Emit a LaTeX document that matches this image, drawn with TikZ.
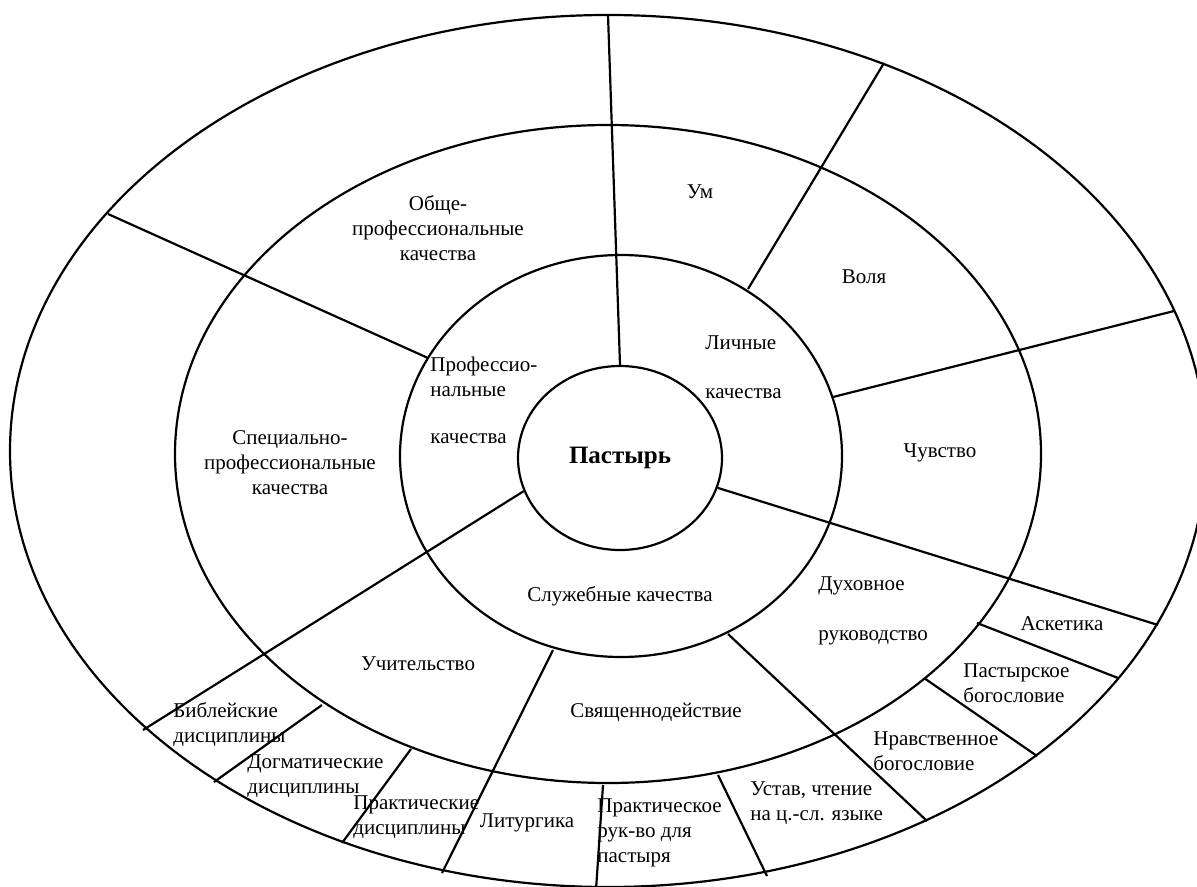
\documentclass[tikz,border=0pt]{standalone}
\usepackage{fontspec}
\setmainfont{Liberation Serif}
\newfontfamily\diagramfont{Liberation Serif}
\usetikzlibrary{shapes.geometric}
\tikzset{
  ring/.style={draw=black, line width=1.1pt},
  divider/.style={draw=black, line width=1.1pt},
  core/.style={
    ellipse,
    draw=black,
    line width=1.1pt,
    minimum width=102pt,
    minimum height=92pt,
    inner sep=0pt,
    font=\diagramfont\fontsize{12.5}{14}\selectfont\bfseries
  },
  area/.style={
    align=center,
    inner sep=0pt,
    font=\diagramfont\fontsize{10.5}{12.5}\selectfont
  },
  leftarea/.style={
    align=left,
    anchor=west,
    inner sep=0pt,
    font=\diagramfont\fontsize{10.5}{12.5}\selectfont
  }
}

\begin{document}
\begin{tikzpicture}[x=0.5pt, y=-0.5pt]
  \useasboundingbox (0,0) rectangle (1197,887);
  \clip (0,0) rectangle (1197,887);

  % rings
  \draw[ring] (608,451) ellipse [x radius=598, y radius=436];
  \draw[ring] (608,454) ellipse [x radius=433, y radius=329];
  \draw[ring] (621,456) ellipse [x radius=221, y radius=201];
  \node[core] (pastor) at (620,458) {Пастырь};

  % ends of the dividers
  \coordinate (top-out) at (608,15);
  \coordinate (prof-in) at (428,358);
  \coordinate (prof-out) at (108,214);
  \coordinate (mind-in) at (748,289);
  \coordinate (mind-out) at (884,63);
  \coordinate (will-in) at (833,397);
  \coordinate (will-out) at (1174,311);
  \coordinate (feel-out) at (1158,625);
  \coordinate (spec-out) at (143,730);
  \coordinate (teach-in) at (553,650);
  \coordinate (teach-out) at (442,873);
  \coordinate (sacr-in) at (728,634);
  \coordinate (sacr-out) at (927,821);
  \coordinate (rule-in) at (718,775);
  \coordinate (rule-out) at (767,876);
  \coordinate (litur-in) at (603,785);
  \coordinate (litur-out) at (596,890);
  \coordinate (bibl-in) at (322,705);
  \coordinate (bibl-out) at (214,782);
  \coordinate (dogm-in) at (411,749);
  \coordinate (dogm-out) at (342,843);
  \coordinate (ascet-in) at (977,623);
  \coordinate (ascet-out) at (1118,678);
  \coordinate (pastth-in) at (924,678);
  \coordinate (pastth-out) at (1037,756);

  % dividers
  \draw[divider] (pastor.north) -- (top-out);
  \draw[divider] (prof-in) -- (prof-out);
  \draw[divider] (mind-in) -- (mind-out);
  \draw[divider] (will-in) -- (will-out);
  \draw[divider] (pastor.-17) -- (feel-out);
  \draw[divider] (pastor.199) -- (spec-out);
  \draw[divider] (teach-in) -- (teach-out);
  \draw[divider] (sacr-in) -- (sacr-out);
  \draw[divider] (rule-in) -- (rule-out);
  \draw[divider] (litur-in) -- (litur-out);
  \draw[divider] (bibl-in) -- (bibl-out);
  \draw[divider] (dogm-in) -- (dogm-out);
  \draw[divider] (ascet-in) -- (ascet-out);
  \draw[divider] (pastth-in) -- (pastth-out);

  % labels
  \node[area] (general) at (438,228) {Обще-\\профессиональные\\качества};
  \node[area] (special) at (290,463) {Специально-\\профессиональные\\качества};
  \node[leftarea] (prof) at (430,400) {Профессио-\\нальные\\[11pt]качества};
  \node[leftarea] (personal) at (705,367) {Личные\\[12pt]качества};
  \node[area] (mind) at (700,192) {Ум};
  \node[area] (will) at (864,277) {Воля};
  \node[area] (feel) at (940,453) {Чувство};
  \node[area] (service) at (620,596) {Служебные качества};
  \node[area] (sacr) at (656,712) {Священнодействие};
  \node[area] (teach) at (418,664) {Учительство};
  \node[leftarea] (guide) at (818,611) {Духовное\\[12.5pt]руководство};
  \node[leftarea] (bibl) at (173,725) {Библейские\\дисциплины};
  \node[leftarea] (dogm) at (247,776) {Догматические\\дисциплины};
  \node[leftarea] (pract) at (353,817) {Практические\\дисциплины};
  \node[area] (litur) at (527,823) {Литургика};
  \node[leftarea] (guidebook) at (597,833) {Практическое\\рук-во для\\пастыря};
  \node[leftarea] (rule) at (750,803) {Устав, чтение\\на ц.-сл. языке};
  \node[leftarea] (moral) at (873,751) {Нравственное\\богословие};
  \node[leftarea] (pastth) at (963,683) {Пастырское\\богословие};
  \node[area] (ascet) at (1062,624) {Аскетика};
\end{tikzpicture}
\end{document}
